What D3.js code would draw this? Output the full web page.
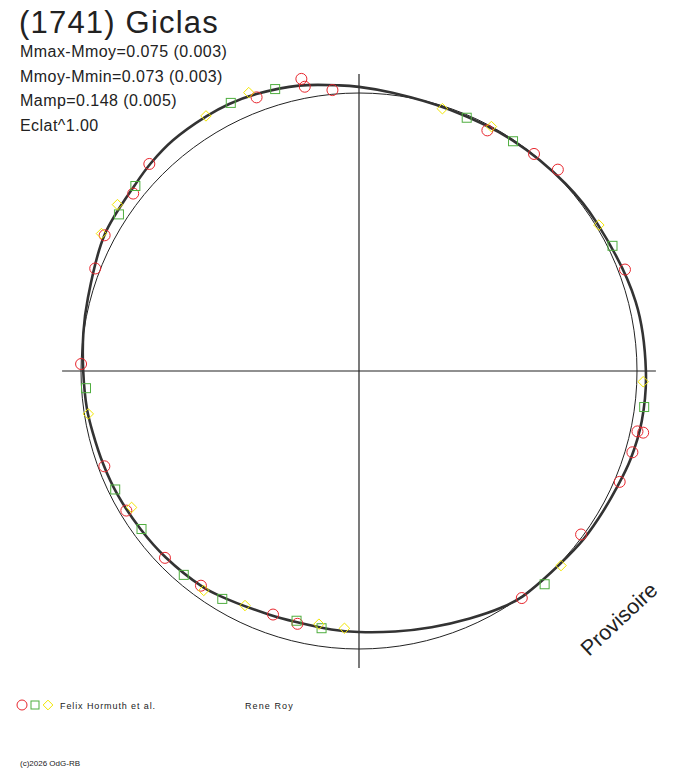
<!DOCTYPE html>
<html>
<head>
<meta charset="utf-8">
<script src="https://cdn.jsdelivr.net/npm/d3@7"></script>
<style>
  body { margin: 0; background: #fff; }
  text { font-family: "Liberation Sans", Arial, sans-serif; fill: #222; }
</style>
</head>
<body>
<div id="chart"></div>
<script>
// light curve in polar form: angle = phase, radius = relative brightness (Eclat^1.00, mean = 1)
var curvePhase = [0.000, 0.019, 0.053, 0.094, 0.133, 0.161, 0.211, 0.250, 0.278, 0.300,
  0.317, 0.336, 0.356, 0.400, 0.414, 0.433, 0.456, 0.478, 0.500, 0.517,
  0.539, 0.556, 0.589, 0.600, 0.628, 0.650, 0.675, 0.694, 0.714, 0.728,
  0.750, 0.772, 0.792, 0.828, 0.861, 0.875, 0.892, 0.914, 0.928, 0.944,
  0.967, 0.989];
var curveEclat = [1.022, 1.008, 0.995, 0.997, 1.003, 1.008, 1.026, 1.032, 1.033, 1.027,
  1.018, 1.012, 1.008, 1.002, 0.993, 0.975, 0.958, 0.946, 0.939, 0.935,
  0.931, 0.934, 0.952, 0.959, 0.966, 0.970, 0.976, 0.979, 0.983, 0.988,
  0.992, 1.001, 1.010, 1.038, 1.048, 1.058, 1.066, 1.068, 1.068, 1.062,
  1.049, 1.030];

// observations, one pair of arrays per session
var redPhase = [0.943, 0.969, 0.970, 0.985, 0.078, 0.108, 0.124, 0.192, 0.284, 0.284,
  0.296, 0.314, 0.351, 0.401, 0.538, 0.554, 0.601, 0.628, 0.664, 0.693,
  0.754, 0.809, 0.828, 0.856, 0.874];
var redEclat = [1.051, 1.071, 1.041, 1.015, 0.981, 1.003, 1.018, 1.024, 1.025, 1.046,
  1.026, 1.019, 0.992, 1.005, 0.936, 0.929, 0.959, 0.969, 0.976, 0.978,
  1.000, 1.018, 1.037, 1.033, 1.060];
var greenPhase = [0.929, 0.954, 0.064, 0.094, 0.177, 0.270, 0.386, 0.523, 0.539, 0.586,
  0.613, 0.650, 0.678, 0.740, 0.842, 0.860];
var greenEclat = [1.069, 1.058, 0.990, 0.995, 1.017, 1.034, 1.017, 0.935, 0.926, 0.956,
  0.967, 0.967, 0.975, 0.984, 1.031, 1.044];
var yellowPhase = [0.914, 0.940, 0.049, 0.079, 0.163, 0.256, 0.372, 0.509, 0.525, 0.572,
  0.598, 0.664, 0.725, 0.846, 0.828];
var yellowEclat = [1.070, 1.077, 0.990, 1.000, 1.010, 1.023, 1.009, 0.927, 0.922, 0.938,
  0.967, 0.954, 0.986, 1.055, 1.050];

var titleText = "(1741) Giclas";
var statLines = ["Mmax-Mmoy=0.075 (0.003)", "Mmoy-Mmin=0.073 (0.003)", "Mamp=0.148 (0.005)", "Eclat^1.00"];
var observers = ["Felix Hormuth et al.", "Rene Roy"];

var width = 688, height = 768, cx = 359, cy = 371;
var red = "#e8262d", green = "#4fae3f", yellow = "#f2e600";

var svg = d3.select("#chart").append("svg")
  .attr("width", width).attr("height", height);

var r = d3.scaleLinear().domain([0, 1]).range([0, 278]);
var ang = d3.scaleLinear().domain([0, 1]).range([0, 2 * Math.PI]);
var axisLen = r(1.068);

var g = svg.append("g").attr("transform", "translate(" + cx + "," + cy + ")");

// reference circle (mean brightness)
g.append("circle").attr("r", r(1)).attr("fill", "none")
  .attr("stroke", "#222").attr("stroke-width", 1);

// axes
g.append("line").attr("x1", -axisLen).attr("x2", axisLen).attr("y1", 0).attr("y2", 0)
  .attr("stroke", "#222").attr("stroke-width", 1.2);
g.append("line").attr("y1", -axisLen).attr("y2", axisLen).attr("x1", 0).attr("x2", 0)
  .attr("stroke", "#222").attr("stroke-width", 1.2);

// fitted curve
var line = d3.lineRadial()
  .angle(function (d) { return ang(d[0]); })
  .radius(function (d) { return r(d[1]); })
  .curve(d3.curveCatmullRomClosed);
g.append("path")
  .datum(d3.zip(curvePhase, curveEclat))
  .attr("d", line)
  .attr("fill", "none").attr("stroke", "#333").attr("stroke-width", 2.6);

function pos(p, e) {
  var a = ang(p), rr = r(e);
  return [rr * Math.sin(a), -rr * Math.cos(a)];
}

g.selectAll("circle.obs").data(d3.zip(redPhase, redEclat)).enter()
  .append("circle").attr("class", "obs")
  .attr("cx", function (d) { return pos(d[0], d[1])[0]; })
  .attr("cy", function (d) { return pos(d[0], d[1])[1]; })
  .attr("r", 5.5).attr("fill", "none").attr("stroke", red).attr("stroke-width", 1);

g.selectAll("rect.obs").data(d3.zip(greenPhase, greenEclat)).enter()
  .append("rect").attr("class", "obs")
  .attr("x", function (d) { return pos(d[0], d[1])[0] - 4.5; })
  .attr("y", function (d) { return pos(d[0], d[1])[1] - 4.5; })
  .attr("width", 9).attr("height", 9)
  .attr("fill", "none").attr("stroke", green).attr("stroke-width", 1);

var diamond = d3.symbol().type(d3.symbolDiamond2).size(70);
g.selectAll("path.obs").data(d3.zip(yellowPhase, yellowEclat)).enter()
  .append("path").attr("class", "obs")
  .attr("d", diamond)
  .attr("transform", function (d) { return "translate(" + pos(d[0], d[1]) + ")"; })
  .attr("fill", "none").attr("stroke", yellow).attr("stroke-width", 1);

// texts
svg.append("text").attr("x", 19).attr("y", 33).attr("font-size", 31)
  .attr("letter-spacing", 1.2).text(titleText);
svg.selectAll("text.stat").data(statLines).enter()
  .append("text").attr("class", "stat")
  .attr("x", 20).attr("y", function (d, i) { return 57 + i * 24.6; })
  .attr("font-size", 16).attr("letter-spacing", 0.45)
  .text(function (d) { return d; });

svg.append("text")
  .attr("transform", "translate(589,657) rotate(-43)")
  .attr("font-size", 21.5).text("Provisoire");

// legend
var leg = svg.append("g").attr("transform", "translate(0,705)");
leg.append("circle").attr("cx", 22).attr("cy", 0).attr("r", 5)
  .attr("fill", "none").attr("stroke", red);
leg.append("rect").attr("x", 31).attr("y", -4).attr("width", 8).attr("height", 8)
  .attr("fill", "none").attr("stroke", green);
leg.append("path").attr("d", diamond.size(60)).attr("transform", "translate(48,0)")
  .attr("fill", "none").attr("stroke", yellow);
leg.append("text").attr("x", 60).attr("y", 4).attr("font-size", 9)
  .attr("letter-spacing", 0.9).text(observers[0]);
leg.append("text").attr("x", 245).attr("y", 4).attr("font-size", 9)
  .attr("letter-spacing", 1.1).text(observers[1]);

svg.append("text").attr("x", 20).attr("y", 766).attr("font-size", 8)
  .text("(c)2026 OdG-RB");
</script>
</body>
</html>
